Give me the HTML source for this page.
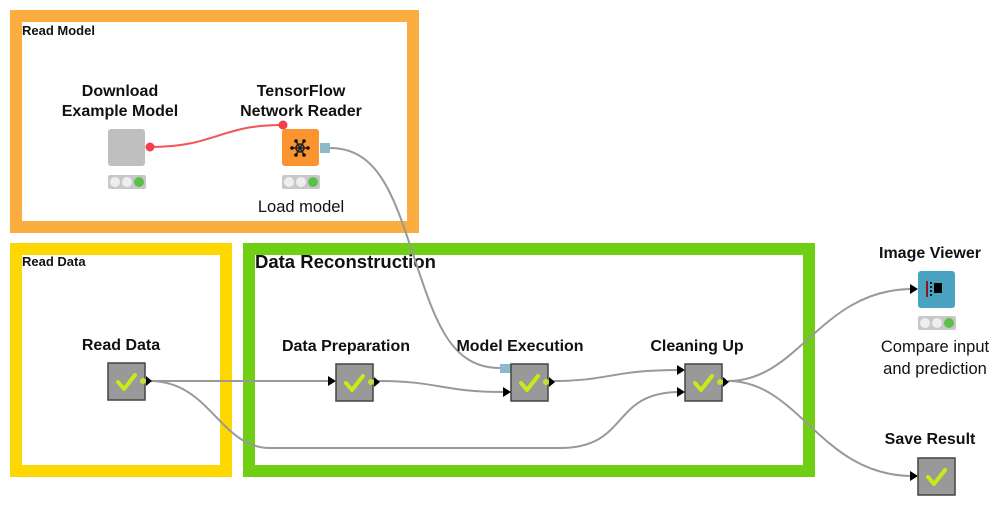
<!DOCTYPE html>
<html><head><meta charset="utf-8"><style>
html,body{margin:0;padding:0;background:#fff;}
svg{display:block;}
text{font-family:"Liberation Sans",Arial,sans-serif;fill:#111;}
.b{font-weight:bold;font-size:16px;}
.n{font-size:16.5px;}
</style></head><body>
<svg width="1000" height="505" viewBox="0 0 1000 505" xmlns="http://www.w3.org/2000/svg">
<defs>
<g id="chk"><rect x="0" y="0" width="37" height="37" fill="#999" stroke="#444" stroke-width="1.5"/>
<path d="M10 19 L16 26 L27 12" fill="none" stroke="#CCE817" stroke-width="4" stroke-linecap="round" stroke-linejoin="round"/></g>
<g id="tl"><rect x="0" y="0" width="38" height="14" rx="2" fill="#c8c8c8"/>
<circle cx="7" cy="7" r="5" fill="#eee"/><circle cx="19" cy="7" r="5" fill="#eee"/><circle cx="31" cy="7" r="5" fill="#5cbf4a"/></g>
</defs>
<rect x="16" y="16" width="397" height="211" fill="none" stroke="#FBAD3F" stroke-width="12"/>
<rect x="16" y="249" width="210" height="222" fill="none" stroke="#FFD700" stroke-width="12"/>
<rect x="249" y="249" width="560" height="222" fill="none" stroke="#70CF14" stroke-width="12"/>
<text x="22" y="35" style="font-size:13px;font-weight:bold">Read Model</text>
<text x="22" y="266" style="font-size:13px;font-weight:bold">Read Data</text>
<text x="255" y="268" style="font-size:18.5px;font-weight:bold">Data Reconstruction</text>

<g fill="none" stroke="#999" stroke-width="2">
<path d="M330 148 C 380 148, 395 200, 415 260 C 435 320, 450 368, 500 368"/>
<path d="M150 381 L330 381"/>
<path d="M150 381 C 210 381, 220 448, 270 448 L 560 448 C 630 448, 610 392, 680 392"/>
<path d="M378 381 C 440 381, 440 392, 505 392"/>
<path d="M553 381 C 610 381, 610 370, 680 370"/>
<path d="M728 381 C 800 381, 820 289, 913 289"/>
<path d="M728 381 C 800 381, 820 476, 913 476"/>
</g>
<path d="M150 147 C 215 147, 220 125, 282 125" fill="none" stroke="#F5535A" stroke-width="2"/>
<circle cx="150" cy="147" r="4.5" fill="#F53E4B"/>
<circle cx="283" cy="125" r="4.5" fill="#F53E4B"/>

<text x="120" y="96" text-anchor="middle" class="b">Download</text>
<text x="120" y="116" text-anchor="middle" class="b">Example Model</text>
<rect x="108" y="129" width="37" height="37" rx="3" fill="#bfbfbf"/>
<use href="#tl" x="108" y="175"/>
<text x="301" y="96" text-anchor="middle" class="b">TensorFlow</text>
<text x="301" y="116" text-anchor="middle" class="b">Network Reader</text>
<rect x="282" y="129" width="37" height="37" rx="3" fill="#FB932F"/>
<g stroke="#222" stroke-width="1.6" fill="none"><circle cx="300" cy="148" r="4"/><path d="M292 148 L308 148 M296 141 L304 155 M304 141 L296 155"/></g>
<g fill="#111"><circle cx="292" cy="148" r="1.8"/><circle cx="308" cy="148" r="1.8"/><circle cx="296" cy="141" r="1.8"/><circle cx="304" cy="141" r="1.8"/><circle cx="296" cy="155" r="1.8"/><circle cx="304" cy="155" r="1.8"/></g>
<rect x="320" y="143" width="10" height="10" fill="#8EB8CC"/>
<use href="#tl" x="282" y="175"/>
<text x="301" y="212" text-anchor="middle" class="n">Load model</text>

<text x="121" y="350" text-anchor="middle" class="b">Read Data</text>
<use href="#chk" x="108" y="363"/>
<circle cx="143" cy="381" r="3" fill="#C4E132"/><path d="M146 376 L152 381 L146 386Z" fill="#000"/>

<text x="346" y="351" text-anchor="middle" class="b">Data Preparation</text>
<path d="M328 376 L336 381 L328 386Z" fill="#000"/>
<use href="#chk" x="336" y="364"/>
<circle cx="371" cy="382" r="3" fill="#C4E132"/><path d="M374 377 L380 382 L374 387Z" fill="#000"/>

<text x="520" y="351" text-anchor="middle" class="b">Model Execution</text>
<rect x="500" y="364" width="11" height="9" fill="#8EB8CC"/>
<path d="M503 387 L511 392 L503 397Z" fill="#000"/>
<use href="#chk" x="511" y="364"/>
<circle cx="546" cy="382" r="3" fill="#C4E132"/><path d="M549 377 L555 382 L549 387Z" fill="#000"/>

<text x="697" y="351" text-anchor="middle" class="b">Cleaning Up</text>
<path d="M677 365 L685 370 L677 375Z" fill="#000"/>
<path d="M677 387 L685 392 L677 397Z" fill="#000"/>
<use href="#chk" x="685" y="364"/>
<circle cx="720" cy="382" r="3" fill="#C4E132"/><path d="M723 377 L729 382 L723 387Z" fill="#000"/>

<text x="930" y="258" text-anchor="middle" class="b">Image Viewer</text>
<path d="M910 284 L918 289 L910 294Z" fill="#000"/>
<rect x="918" y="271" width="37" height="37" rx="3" fill="#4BA3C3"/>
<rect x="926" y="281" width="2" height="16" fill="#8a1a1a"/>
<g fill="#111"><rect x="930" y="282" width="2" height="2"/><rect x="930" y="286" width="2" height="2"/><rect x="930" y="290" width="2" height="2"/><rect x="930" y="294" width="2" height="2"/></g>
<rect x="934" y="283" width="8" height="10" fill="#000"/>
<use href="#tl" x="918" y="316"/>
<text x="935" y="352" text-anchor="middle" class="n">Compare input</text>
<text x="935" y="374" text-anchor="middle" class="n">and prediction</text>

<text x="930" y="444" text-anchor="middle" class="b">Save Result</text>
<path d="M910 471 L918 476 L910 481Z" fill="#000"/>
<use href="#chk" x="918" y="458"/>
</svg>
</body></html>
